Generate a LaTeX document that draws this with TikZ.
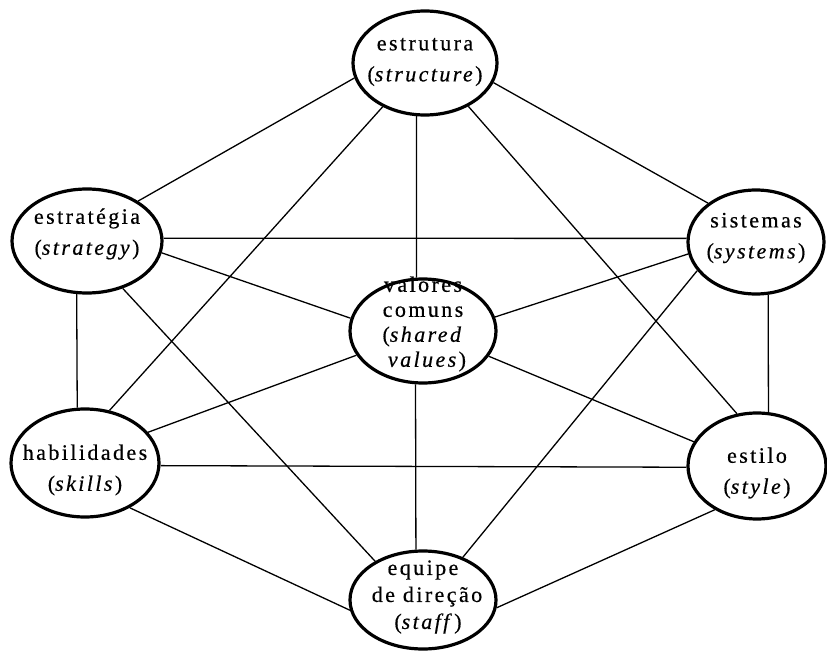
\documentclass[tikz,border=0pt]{standalone}
\usepackage{fontspec}
\setmainfont{Liberation Serif}[LetterSpace=11, FakeBold=0.5]
\usetikzlibrary{shapes.geometric}

\begin{document}
\begin{tikzpicture}[x=1pt, y=-1pt,
  oval/.style={ellipse, draw, line width=3.2pt, inner sep=0pt},
  lbl/.style={align=center, inner sep=0pt, font=\fontsize{22}{31}\selectfont},
  conn/.style={line width=1.3pt}]

\useasboundingbox (0,0) rectangle (827,652);

% the seven elements
\node[oval, minimum width=144pt, minimum height=104pt] (estr) at (425,63)  {};
\node[oval, minimum width=150pt, minimum height=104pt] (strat) at (87,241) {};
\node[oval, minimum width=136pt, minimum height=104pt] (sist) at (756,242) {};
\node[oval, minimum width=146pt, minimum height=104pt] (val) at (423,331)  {};
\node[oval, minimum width=148pt, minimum height=108pt] (hab) at (85,463)   {};
\node[oval, minimum width=138pt, minimum height=106pt] (estilo) at (757,466) {};
\node[oval, minimum width=146pt, minimum height=98pt]  (eq) at (423,600)   {};

% labels
\node[lbl] (estr-t) at (425,62) {estrutura\\(\textit{structure})};
\node[lbl] (strat-t) at (87,234) {estratégia\\(\textit{strategy})};
\node[lbl] (sist-t) at (756,238) {sistemas\\(\textit{systems})};
\node[lbl, font=\fontsize{22}{25}\selectfont] (val-t) at (423,324)
  {valores\\comuns\\(\textit{shared}\hspace*{52pt}\\\hspace*{8pt}\textit{values})};
\node[lbl] (hab-t) at (85,470) {habilidades\\(\textit{skills})};
\node[lbl] (estilo-t) at (757,473) {estilo\\(\textit{style})};
\node[lbl, font=\fontsize{22}{27}\selectfont] (eq-t) at (423,597)
  {equipe\\\hspace*{8pt}de direção\\\hspace*{10pt}(\textit{staff})};

% links between every related pair
\draw[conn] (estr.192) -- (strat.38);
\draw[conn] (estr.344) -- (sist.141);
\draw[conn] (estr.261) -- (val.97);
\draw[conn] (estr.226) -- (hab.65);
\draw[conn] (estr.315) -- (estilo.111);
\draw[conn] (strat.2) -- (sist.177);
\draw[conn] (strat.351) -- (val.170);
\draw[conn] (strat.259) -- (hab.98);
\draw[conn] (strat.307) -- (eq.141);
\draw[conn] (sist.190) -- (val.11);
\draw[conn] (sist.283) -- (estilo.78);
\draw[conn] (sist.206) -- (eq.47);
\draw[conn] (val.200) -- (hab.26);
\draw[conn] (val.339) -- (estilo.159);
\draw[conn] (val.262) -- (eq.98);
\draw[conn] (hab.358) -- (estilo.181);
\draw[conn] (hab.315) -- (eq.188);
\draw[conn] (estilo.226) -- (eq.354);
\end{tikzpicture}
\end{document}
